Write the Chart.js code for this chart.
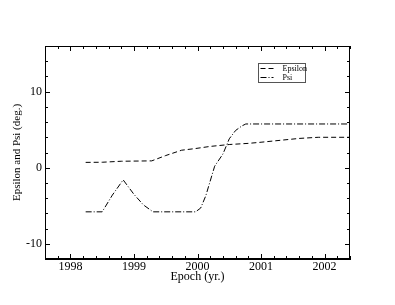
<!DOCTYPE html>
<html><head><meta charset="utf-8">
<script src="https://cdn.jsdelivr.net/npm/chart.js@4"></script>
<style>html,body{margin:0;padding:0;background:#fff}#wrap{width:395px;height:305px}</style>
</head><body><div id="wrap"><canvas id="c" width="395" height="305"></canvas></div>
<script>
const epsilonX = [1998.24,1998.5,1998.8,1999.28,1999.5,1999.75,1999.95,2000.2,2000.5,2000.8,2001.0,2001.3,2001.6,2001.9,2002.4];
const epsilonY = [0.7,0.72,0.85,0.9,1.6,2.3,2.5,2.8,3.05,3.2,3.35,3.6,3.85,4.0,4.0];
const psiX = [1998.24,1998.5,1998.66,1998.83,1999.0,1999.15,1999.3,1999.97,2000.05,2000.13,2000.27,2000.4,2000.5,2000.6,2000.7,2000.76,2002.4];
const psiY = [-5.8,-5.8,-3.6,-1.6,-3.5,-4.9,-5.8,-5.8,-5.3,-3.7,0.2,1.8,3.8,4.9,5.5,5.75,5.75];
const xTickLabels = [1998,1999,2000,2001,2002];
const yTickLabels = [-10,0,10];

const serif = "'Liberation Serif','DejaVu Serif',serif";

const inwardTicks = {
  id:'inwardTicks',
  afterDraw(chart){
    const ctx = chart.ctx, a = chart.chartArea;
    const xs = chart.scales.x, ys = chart.scales.y;
    ctx.save();
    ctx.strokeStyle = '#000'; ctx.lineWidth = 1;
    ctx.beginPath();
    xs.ticks.forEach(t=>{
      const v = Math.round(t.value*10)/10;
      const major = Math.abs(v-Math.round(v))<1e-6;
      const len = major?5:3;
      const px = Math.round(xs.getPixelForValue(t.value))+0.5;
      ctx.moveTo(px,a.bottom); ctx.lineTo(px,a.bottom-len);
      ctx.moveTo(px,a.top); ctx.lineTo(px,a.top+len);
    });
    ys.ticks.forEach(t=>{
      const v = Math.round(t.value);
      const major = v%10===0;
      const len = major?5:3;
      const py = Math.round(ys.getPixelForValue(t.value))+0.5;
      ctx.moveTo(a.left,py); ctx.lineTo(a.left+len,py);
      ctx.moveTo(a.right,py); ctx.lineTo(a.right-len,py);
    });
    ctx.stroke();
    ctx.restore();
  }
};

new Chart(document.getElementById('c'),{
  type:'line',
  data:{datasets:[
    {label:'Epsilon',data:epsilonX.map((x,i)=>({x,y:epsilonY[i]})),borderColor:'#000',borderWidth:1,borderDash:[5,3],pointRadius:0,tension:0,fill:false},
    {label:'Psi',data:psiX.map((x,i)=>({x,y:psiY[i]})),borderColor:'#000',borderWidth:1,borderDash:[6,2,1,2],pointRadius:0,tension:0,fill:false}
  ]},
  options:{
    responsive:false,animation:false,
    layout:{padding:{left:0,top:46,right:45,bottom:21}},
    plugins:{
      legend:{display:false},
      tooltip:{enabled:false}
    },
    scales:{
      x:{type:'linear',min:1997.6,max:2002.4,
        afterFit(s){s.height=25;},
        ticks:{stepSize:0.2,autoSkip:false,maxRotation:0,padding:1,color:'#000',font:{family:serif,size:12},
          callback(v){const r=Math.round(v*10)/10;return xTickLabels.includes(r)?String(r):'';}},
        grid:{display:true,drawOnChartArea:false,drawTicks:false,color:'#000'},
        border:{display:true,color:'#000',width:1},
        title:{display:true,text:'Epoch (yr.)',color:'#000',font:{family:serif,size:12},padding:{top:0,bottom:0}}
      },
      y:{min:-12,max:16,
        afterFit(s){s.width=45;},
        ticks:{stepSize:2,autoSkip:false,padding:3,color:'#000',font:{family:serif,size:12},
          callback(v){const r=Math.round(v);return yTickLabels.includes(r)?String(r):'';}},
        grid:{display:true,drawOnChartArea:false,drawTicks:false,color:'#000'},
        border:{display:true,color:'#000',width:1},
        title:{display:true,text:'Epsilon and Psi (deg.)',color:'#000',font:{family:serif,size:11},padding:{top:11,bottom:0}}
      }
    }
  },
  plugins:[inwardTicks,{
    id:'frameLegend',
    afterDraw(chart){
      const ctx=chart.ctx,a=chart.chartArea;
      ctx.save();
      ctx.strokeStyle='#000';ctx.lineWidth=1;
      ctx.strokeRect(a.left+0.5,a.top+0.5,a.right-a.left-1,a.bottom-a.top-1);
      const bx=258.5,by=63.5,bw=47,bh=19;
      ctx.strokeStyle='#555';
      ctx.strokeRect(bx,by,bw,bh);
      ctx.strokeStyle='#000';
      chart.data.datasets.forEach((ds,i)=>{
        const y=by+5+i*9;
        ctx.setLineDash(ds.borderDash);
        ctx.beginPath();ctx.moveTo(bx+2,y);ctx.lineTo(bx+15,y);ctx.stroke();
        ctx.setLineDash([]);
        ctx.fillStyle='#000';ctx.font='8px '+serif;ctx.textBaseline='middle';
        ctx.fillText(ds.label,bx+24,y);
      });
      ctx.restore();
    }
  }]
});
</script></body></html>
